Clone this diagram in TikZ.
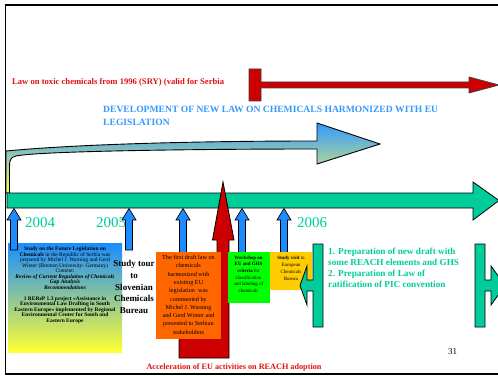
\documentclass[tikz,border=0pt]{standalone}
\usepackage{fontspec}
\setmainfont{Liberation Serif}
\definecolor{lineteal}{HTML}{00CC99}
\definecolor{skyblue}{HTML}{3399FF}
\definecolor{upblue}{HTML}{1A8CFF}
\definecolor{lawred}{HTML}{CC0000}
\definecolor{txtred}{HTML}{DD1111}
\definecolor{draftorange}{HTML}{FF6600}
\definecolor{wsgreen}{HTML}{00FF00}
\definecolor{visitgold}{HTML}{FFCC00}
\definecolor{boxyellow}{HTML}{FFFF33}
\definecolor{arrowpale}{HTML}{FFFF55}

% small upward block arrow hanging under the time line
\newcommand\BlueUp[2]{%
  \filldraw[bluearr] (#1,208.5) -- (#1+7,220) -- (#1+3.5,220) -- (#1+3.5,#2)
    -- (#1-3.5,#2) -- (#1-3.5,220) -- (#1-7,220) -- cycle;}

\begin{document}
\begin{tikzpicture}[x=1pt,y=-1pt,
  outl/.style={draw=black, line width=0.8pt, line join=miter},
  bluearr/.style={outl, fill=upblue, line width=0.7pt},
  yeartext/.style={text=lineteal, font=\fontsize{15}{16}\selectfont, inner sep=0pt},
  boxtext/.style={align=center, inner sep=0pt, text=black},
  planbox/.style={draw=none, minimum width=0pt, minimum height=0pt, inner sep=0pt}]
\useasboundingbox (0,0) rectangle (498,377);
\clip (0,0) rectangle (498,377);

% old law: T-bar with long red arrow
\node[anchor=west, inner sep=0pt, text=txtred, font=\bfseries\fontsize{8.6}{10}\selectfont]
  (oldlaw) at (12,82.5) {Law on toxic chemicals from 1996 (SRY) (valid for Serbia};
\filldraw[outl, draw=black!75, fill=lawred] (249,69) -- (261,69) -- (261,82) -- (469,82) -- (469,77)
  -- (499,85) -- (469,93) -- (469,88) -- (261,88) -- (261,101) -- (249,101) -- cycle;

% development of the new law: bent arrow
\node[anchor=north west, align=left, inner sep=0pt, text=skyblue, font=\bfseries\fontsize{9.6}{13}\selectfont]
  (newlaw) at (103,106) {DEVELOPMENT OF NEW LAW ON CHEMICALS HARMONIZED WITH EU\\LEGISLATION};
\path[outl, line width=0.9pt, top color=skyblue, bottom color=arrowpale]
  (6,193) -- (6,151) .. controls (80,144) and (200,141) .. (317,141) -- (317,123) -- (380,144)
  -- (317,164) -- (317,149) .. controls (200,149) and (40,151) .. (16,156)
  .. controls (11,157) and (9.5,160) .. (9.5,166) -- (9.5,193) -- cycle;

% time line
\filldraw[outl, fill=lineteal] (7,193) -- (473,193) -- (473,182) -- (499,200.5) -- (473,220)
  -- (473,208) -- (7,208) -- cycle;

% years
\node[yeartext, anchor=west] (y2004) at (25,223) {2004};
\node[yeartext, anchor=west] (y2005) at (96,223) {2005};
\node[yeartext, anchor=west] (y2006) at (297,223) {2006};

% study on the future legislation
\node[planbox, anchor=north west, minimum width=114pt, minimum height=109pt,
  top color=upblue, bottom color=boxyellow] (studybox) at (8,243) {};
\node[boxtext, anchor=north, font=\fontsize{5.5}{5.5}\selectfont] (studytext) at (65,246.5) {%
  {\bfseries Study on the Future Legislation on}\\
  {\bfseries Chemicals} in the Republic of Serbia was\\
  prepared by Michel J. Warning and Gerd\\
  Winter (Bremen University- Germany)\\
  Content:\\
  {\bfseries\itshape Review of Current Regulation of Chemicals}\\
  {\bfseries\itshape Gap Analysis}\\
  {\bfseries\itshape Recommendations}\\[5.5pt]
  {\bfseries 1 REReP 1.3 project «Assistance in}\\
  {\bfseries Environmental Law Drafting in South}\\
  {\bfseries Eastern Europe» implemented by Regional}\\
  {\bfseries Environmental Center for South and}\\
  {\bfseries Eastern Europe}};

% study tour
\node[boxtext, font=\bfseries\fontsize{9}{11.6}\selectfont] (tour) at (134,287)
  {Study tour\\to\\Slovenian\\Chemicals\\Bureau};

% upward arrows under the time line
\BlueUp{14}{250}
\BlueUp{129}{250}
\BlueUp{183}{253}
\BlueUp{242}{253}
\BlueUp{284}{253}

% acceleration of EU activities: bent red arrow
\filldraw[outl, fill=lawred] (179,318) -- (217,318) -- (217,240) -- (212.5,240) -- (223,182)
  -- (234,240) -- (229,240) -- (229,358) -- (179,358) -- cycle;
\node[inner sep=0pt, text=txtred, font=\bfseries\fontsize{8.2}{9}\selectfont] (accel) at (234,367.5)
  {Acceleration of EU activities on REACH adoption};

% first draft
\node[planbox, anchor=north west, fill=draftorange, minimum width=65pt, minimum height=87pt]
  (draftbox) at (156,252) {};
\node[boxtext, anchor=north, font=\fontsize{6.2}{8.3}\selectfont] (drafttext) at (188.5,255) {%
  The first draft law on\\chemicals\\harmonized with\\existing EU\\legislation\ \ was\\commented by\\
  Michel J. Warning\\and Gerd Winter and\\presented to Serbian\\stakeholders};

% workshop
\node[planbox, anchor=north west, fill=wsgreen, minimum width=42pt, minimum height=51pt]
  (wsbox) at (227.5,252) {};
\node[boxtext, anchor=north, font=\fontsize{4.9}{6.7}\selectfont] (wstext) at (248.5,255.5) {%
  {\bfseries Workshop on}\\{\bfseries EU and GHS}\\{\bfseries criteria} for\\classification\\
  and labeling of\\chemicals};

% study visit
\node[planbox, anchor=north west, fill=visitgold, minimum width=42.5pt, minimum height=38pt]
  (visitbox) at (269.5,252) {};
\node[boxtext, anchor=north, font=\fontsize{4.9}{7}\selectfont] (visittext) at (291,255.5) {%
  {\bfseries Study visit} to\\European\\Chemicals\\Bureau};

% plans for 2006 between two arrow brackets
\filldraw[outl, fill=lineteal] (313,244) -- (323,244) -- (323,327) -- (313,327) -- (313,291)
  -- (307,291) -- (307,305) -- (300,285.5) -- (307,266) -- (307,280) -- (313,280) -- cycle;
\filldraw[outl, fill=lineteal] (485,244) -- (475,244) -- (475,327) -- (485,327) -- (485,291)
  -- (491,291) -- (491,305) -- (505,285.5) -- (491,266) -- (491,280) -- (485,280) -- cycle;
\node[anchor=north west, align=left, inner sep=0pt, text=lineteal,
  font=\bfseries\fontsize{9.2}{11}\selectfont] (plans) at (328,248) {%
  1. Preparation of new draft with\\some REACH elements and GHS\\
  2. Preparation of Law of\\ratification of PIC convention};

% page number
\node[inner sep=0pt, font=\fontsize{9}{10}\selectfont] (pageno) at (452.5,352) {31};

% frame
\draw[line width=1.8pt] (498,5) -- (5.5,5) -- (5.5,374) -- (498,374);
\end{tikzpicture}
\end{document}
